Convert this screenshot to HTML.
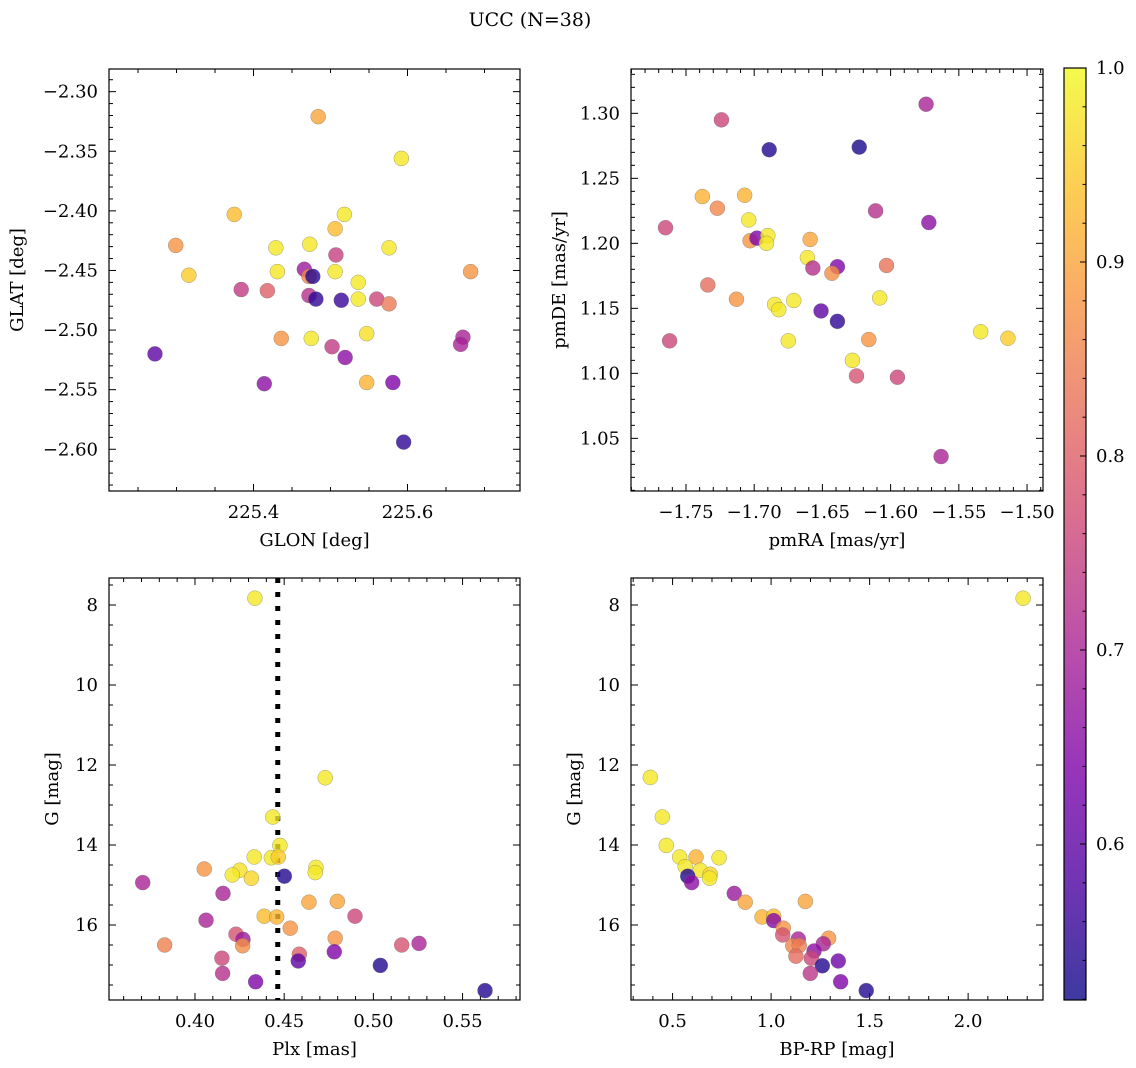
<!DOCTYPE html>
<html><head><meta charset="utf-8"><style>
html,body{margin:0;padding:0;background:#fff;}
svg{display:block;font-family:"DejaVu Serif","Liberation Serif",serif;}
</style></head><body>
<svg id="fig" width="1136" height="1068" viewBox="0 0 1136 1068" xmlns="http://www.w3.org/2000/svg">
<defs>
<linearGradient id="cbgrad" x1="0" y1="1" x2="0" y2="0">
<stop offset="0" stop-color="#0d0887"/><stop offset="0.125" stop-color="#4c02a1"/><stop offset="0.25" stop-color="#7e03a8"/><stop offset="0.375" stop-color="#a82296"/><stop offset="0.5" stop-color="#cb4679"/><stop offset="0.625" stop-color="#e56b5d"/><stop offset="0.75" stop-color="#f89441"/><stop offset="0.875" stop-color="#fdc328"/><stop offset="1" stop-color="#f0f921"/>
</linearGradient>
</defs>
<text x="530" y="26" font-size="19" text-anchor="middle">UCC (N=38)</text>
</svg>
<script>
// Panel 1: GLON / GLAT
const glon = [225.484,225.592,225.375,225.518,225.299,225.429,225.473,225.506,225.576,225.316,225.431,225.466,225.472,225.477,225.507,225.506,225.536,225.384,225.418,225.472,225.481,225.514,225.560,225.576,225.682,225.436,225.475,225.502,225.519,225.547,225.672,225.669,225.272,225.414,225.547,225.581,225.595,225.536];
const glat = [-2.321,-2.356,-2.403,-2.403,-2.429,-2.431,-2.428,-2.415,-2.431,-2.454,-2.451,-2.449,-2.455,-2.455,-2.437,-2.451,-2.460,-2.466,-2.467,-2.471,-2.474,-2.475,-2.474,-2.478,-2.451,-2.507,-2.507,-2.514,-2.523,-2.503,-2.506,-2.512,-2.520,-2.545,-2.544,-2.544,-2.594,-2.474];
const prob1 = [0.90,0.98,0.93,0.98,0.88,0.98,0.98,0.93,0.98,0.95,0.98,0.68,0.86,0.54,0.75,0.98,0.98,0.74,0.80,0.72,0.55,0.56,0.76,0.84,0.88,0.88,0.98,0.74,0.66,0.97,0.70,0.70,0.60,0.66,0.92,0.64,0.55,0.98];
// Panel 2: pmRA / pmDE
const pmra = [-1.574,-1.724,-1.689,-1.623,-1.765,-1.738,-1.727,-1.707,-1.704,-1.611,-1.572,-1.703,-1.698,-1.690,-1.691,-1.659,-1.661,-1.657,-1.639,-1.643,-1.603,-1.734,-1.713,-1.685,-1.682,-1.671,-1.608,-1.651,-1.639,-1.762,-1.675,-1.616,-1.628,-1.534,-1.514,-1.625,-1.595,-1.563];
const pmde = [1.307,1.295,1.272,1.274,1.212,1.236,1.227,1.237,1.218,1.225,1.216,1.202,1.204,1.206,1.200,1.203,1.189,1.181,1.182,1.177,1.183,1.168,1.157,1.153,1.149,1.156,1.158,1.148,1.140,1.125,1.125,1.126,1.110,1.132,1.127,1.098,1.097,1.036];
const prob2 = [0.70,0.76,0.54,0.53,0.76,0.92,0.86,0.92,0.98,0.72,0.66,0.88,0.64,0.98,0.98,0.90,0.98,0.72,0.64,0.87,0.83,0.82,0.88,0.98,0.98,0.98,0.98,0.60,0.55,0.76,0.98,0.88,0.98,0.98,0.95,0.78,0.76,0.70];
// Panel 3: Plx / G
const plx = [0.4336,0.4730,0.4436,0.4476,0.4332,0.4428,0.4467,0.4052,0.4251,0.4209,0.4316,0.4678,0.4674,0.4501,0.3707,0.4157,0.4639,0.4798,0.4388,0.4458,0.4897,0.4062,0.4534,0.4230,0.4786,0.4269,0.4267,0.3830,0.5159,0.5256,0.4585,0.4781,0.4151,0.4579,0.5039,0.4155,0.4340,0.5626];
const gmag3 = [7.83,12.32,13.30,14.01,14.30,14.32,14.30,14.60,14.63,14.75,14.83,14.56,14.69,14.78,14.94,15.21,15.43,15.41,15.78,15.80,15.78,15.88,16.08,16.23,16.33,16.36,16.52,16.50,16.50,16.46,16.73,16.67,16.83,16.90,17.01,17.21,17.42,17.64];
const prob3 = [0.98,0.98,0.98,0.98,0.98,0.98,0.95,0.88,0.97,0.98,0.96,0.98,0.98,0.54,0.70,0.70,0.90,0.90,0.93,0.92,0.76,0.70,0.88,0.78,0.88,0.68,0.87,0.85,0.78,0.70,0.80,0.64,0.76,0.60,0.54,0.72,0.64,0.54];
const plxRef = [0.4464];
// Panel 4: BP-RP / G
const bprp = [2.279,0.387,0.448,0.468,0.536,0.619,0.736,0.564,0.641,0.691,0.688,0.577,0.597,0.813,0.869,1.174,0.954,1.013,1.013,1.062,1.059,1.138,1.292,1.265,1.110,1.143,1.126,1.218,1.204,1.341,1.260,1.199,1.353,1.483];
const gmag4 = [7.83,12.31,13.30,14.01,14.30,14.30,14.32,14.54,14.63,14.73,14.83,14.78,14.94,15.21,15.43,15.41,15.80,15.78,15.89,16.08,16.25,16.35,16.33,16.47,16.52,16.51,16.78,16.65,16.83,16.90,17.02,17.21,17.42,17.64];
const prob4 = [0.98,0.98,0.98,0.98,0.98,0.92,0.98,0.98,0.98,0.96,0.98,0.54,0.66,0.68,0.90,0.90,0.92,0.93,0.65,0.88,0.78,0.70,0.88,0.70,0.86,0.85,0.82,0.66,0.76,0.62,0.54,0.73,0.64,0.54];
// Colorbar
const cbTicks = [0.6,0.7,0.8,0.9,1.0];
const cbMin = 0.5196, cbMax = 1.0;

const FS = 18;
const NS = "http://www.w3.org/2000/svg";
const fig = document.getElementById('fig');
const stops = [[0,[13,8,135]],[0.125,[76,2,161]],[0.25,[126,3,168]],[0.375,[168,34,150]],[0.5,[203,70,121]],[0.625,[229,107,93]],[0.75,[248,148,65]],[0.875,[253,195,40]],[1,[240,249,33]]];
function plasma(v){
  let t=(v-cbMin)/(cbMax-cbMin); t=Math.max(0,Math.min(1,t));
  for(let i=0;i<stops.length-1;i++){
    const a=stops[i],b=stops[i+1];
    if(t<=b[0]){const f=(t-a[0])/(b[0]-a[0]);const c=a[1].map((x,k)=>Math.round(x+(b[1][k]-x)*f));return `rgb(${c[0]},${c[1]},${c[2]})`;}
  }
  return 'rgb(240,249,33)';
}
function mk(tag,attrs,parent){const e=document.createElementNS(NS,tag);for(const k in attrs)e.setAttribute(k,attrs[k]);(parent||fig).appendChild(e);return e;}
function fmt(v,d){const s=Math.abs(v).toFixed(d);return (v<-1e-9?'\u2212':'')+s;}

function panel(cfg){
  const g=mk('g',{});
  
  
  const {L,T,R,B}=cfg;
  const sx=v=>L+(v-cfg.x0)/(cfg.x1-cfg.x0)*(R-L);
  const sy=cfg.invert? (v=>T+(v-cfg.y0)/(cfg.y1-cfg.y0)*(B-T)) : (v=>B-(v-cfg.y0)/(cfg.y1-cfg.y0)*(B-T));
  const tg=mk('g',{stroke:'#000','stroke-width':1},g);
  const xmin=Math.min(cfg.x0,cfg.x1), xmax=Math.max(cfg.x0,cfg.x1);
  for(let k=Math.ceil(xmin/cfg.xminor-1e-6);k*cfg.xminor<=xmax+1e-9;k++){
    const v=k*cfg.xminor; const px=sx(v);
    const r=v/cfg.xmajor; const maj=Math.abs(r-Math.round(r))<1e-6; const len=maj?7:4;
    mk('line',{x1:px,y1:B,x2:px,y2:B-len},tg); mk('line',{x1:px,y1:T,x2:px,y2:T+len},tg);
    if(maj){const t=mk('text',{x:px,y:B+27,'font-size':FS,'text-anchor':'middle',stroke:'none',fill:'#000'},g);t.textContent=fmt(v,cfg.xdec);
      
      }
  }
  const ymin=Math.min(cfg.y0,cfg.y1), ymax=Math.max(cfg.y0,cfg.y1);
  for(let k=Math.ceil(ymin/cfg.yminor-1e-6);k*cfg.yminor<=ymax+1e-9;k++){
    const v=k*cfg.yminor; const py=sy(v);
    const r=v/cfg.ymajor; const maj=Math.abs(r-Math.round(r))<1e-6; const len=maj?7:4;
    mk('line',{x1:L,y1:py,x2:L+len,y2:py},tg); mk('line',{x1:R,y1:py,x2:R-len,y2:py},tg);
    if(maj){const t=mk('text',{x:L-11,y:py+6,'font-size':FS,'text-anchor':'end',fill:'#000'},g);t.textContent=fmt(v,cfg.ydec);
      
      }
  }
  if(cfg.extra) cfg.extra(g,sx,sy);
  const pg=mk('g',{},g);
  
  
  for(let i=0;i<cfg.xs.length;i++){
    const c=mk('circle',{cx:sx(cfg.xs[i]),cy:sy(cfg.ys[i]),r:7.5,fill:plasma(cfg.cs[i]),'fill-opacity':0.8,stroke:'#666','stroke-opacity':0.6,'stroke-width':0.5},pg);
    
    
  }
  const fr=mk('rect',{x:L,y:T,width:R-L,height:B-T,fill:'none',stroke:'#000','stroke-width':1.2},g);
  
  
  const xl=mk('text',{x:(L+R)/2,y:B+55,'font-size':FS,'text-anchor':'middle'},g);xl.textContent=cfg.xlabel;
  
  
  const yx=cfg.ylx, yy=(T+B)/2;
  const yl=mk('text',{x:yx,y:yy,'font-size':FS,'text-anchor':'middle',transform:`rotate(-90 ${yx} ${yy})`},g);yl.textContent=cfg.ylabel;
  
  
}

panel({name:'glon-glat-panel',L:109,T:69,R:520,B:491,x0:225.2123,x1:225.7461,y0:-2.6350,y1:-2.2810,xmajor:0.2,xminor:0.05,xdec:1,ymajor:0.05,yminor:0.01,ydec:2,xs:glon,ys:glat,cs:prob1,xlabel:'GLON [deg]',ylabel:'GLAT [deg]',ylx:23});
panel({name:'pm-panel',L:631,T:69,R:1043,B:491,x0:-1.7903,x1:-1.4883,y0:1.0095,y1:1.3341,xmajor:0.05,xminor:0.01,xdec:2,ymajor:0.05,yminor:0.01,ydec:2,xs:pmra,ys:pmde,cs:prob2,xlabel:'pmRA [mas/yr]',ylabel:'pmDE [mas/yr]',ylx:565});
panel({name:'plx-g-panel',L:109,T:578,R:520,B:1000,x0:0.3518,x1:0.5822,y0:7.325,y1:17.875,invert:true,xmajor:0.05,xminor:0.01,xdec:2,ymajor:2,yminor:0.5,ydec:0,xs:plx,ys:gmag3,cs:prob3,xlabel:'Plx [mas]',ylabel:'G [mag]',ylx:58,
  extra:(g,sx,sy)=>{const l=mk('line',{x1:sx(plxRef[0]),y1:578,x2:sx(plxRef[0]),y2:1000,stroke:'#000','stroke-width':5,'stroke-dasharray':'5 9'},g);
    
    }});
panel({name:'cmd-panel',L:631,T:578,R:1043,B:1000,x0:0.289,x1:2.380,y0:7.325,y1:17.875,invert:true,xmajor:0.5,xminor:0.1,xdec:1,ymajor:2,yminor:0.5,ydec:0,xs:bprp,ys:gmag4,cs:prob4,xlabel:'BP-RP [mag]',ylabel:'G [mag]',ylx:580});

// colorbar
const cb=mk('g',{});


const cL=1064,cR=1086,cT=68,cB=1000;
mk('rect',{x:cL,y:cT,width:cR-cL,height:cB-cT,fill:'url(#cbgrad)','fill-opacity':0.8},cb);
const cy=v=>cB-(v-cbMin)/(cbMax-cbMin)*(cB-cT);
for(let k=Math.ceil(cbMin/0.02-1e-6);k*0.02<=cbMax+1e-9;k++){
  const v=k*0.02, py=cy(v); const maj=cbTicks.some(t=>Math.abs(t-v)<1e-6);
  mk('line',{x1:cR,y1:py,x2:cR-(maj?6:3.5),y2:py,stroke:'#000','stroke-width':1},cb);
}
cbTicks.forEach(v=>{const t=mk('text',{x:1096,y:cy(v)+6,'font-size':FS},cb);t.textContent=v.toFixed(1);
  
  });
mk('rect',{x:cL,y:cT,width:cR-cL,height:cB-cT,fill:'none',stroke:'#000','stroke-width':1.2},cb);
</script>
</body></html>
